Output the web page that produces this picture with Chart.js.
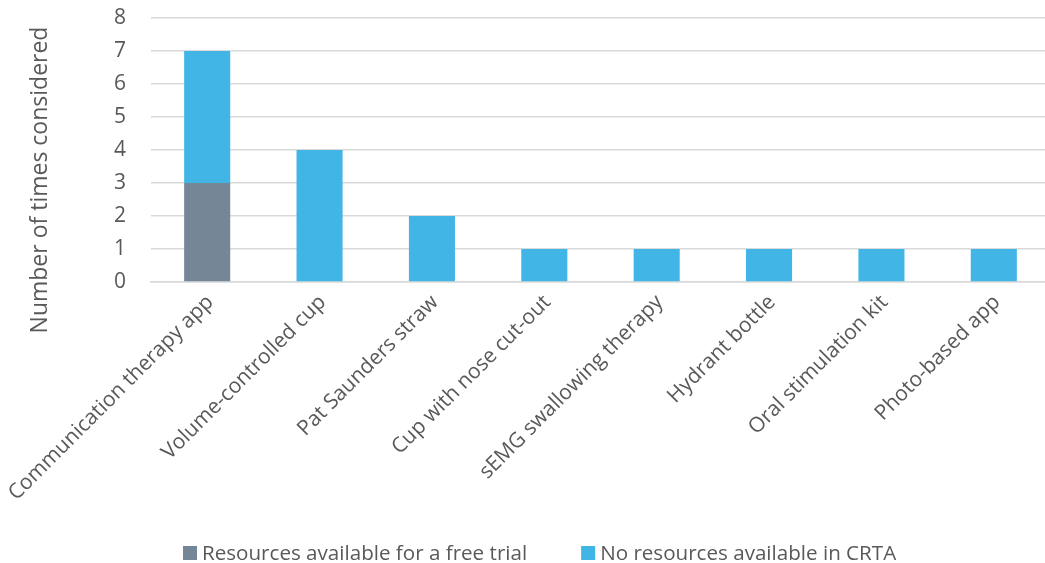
<!DOCTYPE html>
<html>
<head>
<meta charset="utf-8">
<script src="https://cdn.jsdelivr.net/npm/chart.js"></script>
<style>
	html, body { margin: 0; padding: 0; background: #ffffff; overflow: hidden; }
	#wrap { width: 1050px; height: 563px; position: relative; }
</style>
</head>
<body>
<div id="wrap"><canvas id="myChart"></canvas></div>
<script>
// categories and counts
const categories = [
	"Communication therapy app",
	"Volume-controlled cup",
	"Pat Saunders straw",
	"Cup with nose cut-out",
	"sEMG swallowing therapy",
	"Hydrant bottle",
	"Oral stimulation kit",
	"Photo-based app"
];
const freeTrial = [3, 0, 0, 0, 0, 0, 0, 0];
const noResources = [4, 4, 2, 1, 1, 1, 1, 1];
const yTicks = [0, 1, 2, 3, 4, 5, 6, 7, 8];
const yTitle = "Number of times considered";

const seriesNames = ["Resources available for a free trial", "No resources available in CRTA"];
const seriesColors = ["#758696", "#41B6E6"];
const textColor = "#595959";
const fontFamily = "'Open Sans', sans-serif";

// y title and legend drawn by hand so they can sit where they should
const extras = {
	id: "extras",
	afterDraw: function (chart) {
		const ctx = chart.ctx;
		ctx.save();

		// axis title, rotated
		ctx.font = "23px " + fontFamily;
		ctx.fillStyle = textColor;
		ctx.textAlign = "center";
		ctx.textBaseline = "middle";
		ctx.translate(40, 180);
		ctx.rotate(-Math.PI / 2);
		ctx.fillText(yTitle, 0, 0);
		ctx.setTransform(1, 0, 0, 1, 0, 0);

		// legend at the bottom
		const box = 14, gap = 5, spacing = 54;
		ctx.font = "20.6px " + fontFamily;
		ctx.textAlign = "left";
		let widths = seriesNames.map(n => box + gap + ctx.measureText(n).width);
		let x = 183;
		const y = 553;
		seriesNames.forEach((name, i) => {
			ctx.fillStyle = seriesColors[i];
			ctx.fillRect(x, y - box / 2, box, box);
			ctx.fillStyle = textColor;
			ctx.fillText(name, x + box + gap, y + 1);
			x += widths[i] + spacing;
		});
		ctx.restore();
	}
};

new Chart(document.getElementById("myChart"), {
	type: "bar",
	data: {
		labels: categories,
		datasets: [
			{
				label: seriesNames[0],
				data: freeTrial,
				backgroundColor: seriesColors[0],
				barPercentage: 0.41,
				categoryPercentage: 1
			},
			{
				label: seriesNames[1],
				data: noResources,
				backgroundColor: seriesColors[1],
				barPercentage: 0.41,
				categoryPercentage: 1
			}
		]
	},
	options: {
		responsive: true,
		maintainAspectRatio: false,
		animation: false,
		layout: { padding: { top: 18, right: 0, bottom: 30, left: 0 } },
		plugins: {
			legend: { display: false },
			tooltip: { enabled: false }
		},
		scales: {
			x: {
				stacked: true,
				afterFit: function (scale) {
					scale.height = 251;
					scale.paddingLeft = 0;
					scale.paddingRight = 0;
				},
				ticks: {
					color: textColor,
					font: { family: fontFamily, size: 21 },
					minRotation: 45,
					maxRotation: 45,
					autoSkip: false,
					padding: 8,
					labelOffset: 3
				},
				grid: { display: false, drawTicks: false },
				border: { display: true, color: "#D9D9D9", width: 1.5 }
			},
			y: {
				stacked: true,
				min: 0,
				max: 8,
				afterFit: function (scale) {
					scale.width = 151;
					scale.paddingTop = 0;
					scale.paddingBottom = 0;
				},
				afterBuildTicks: function (scale) {
					scale.ticks = yTicks.map(v => ({ value: v }));
				},
				ticks: {
					color: textColor,
					font: { family: fontFamily, size: 21 },
					padding: 25
				},
				grid: { color: "#D9D9D9", lineWidth: 1.5, drawTicks: false },
				border: { display: false }
			}
		}
	},
	plugins: [extras]
});
</script>
</body>
</html>
